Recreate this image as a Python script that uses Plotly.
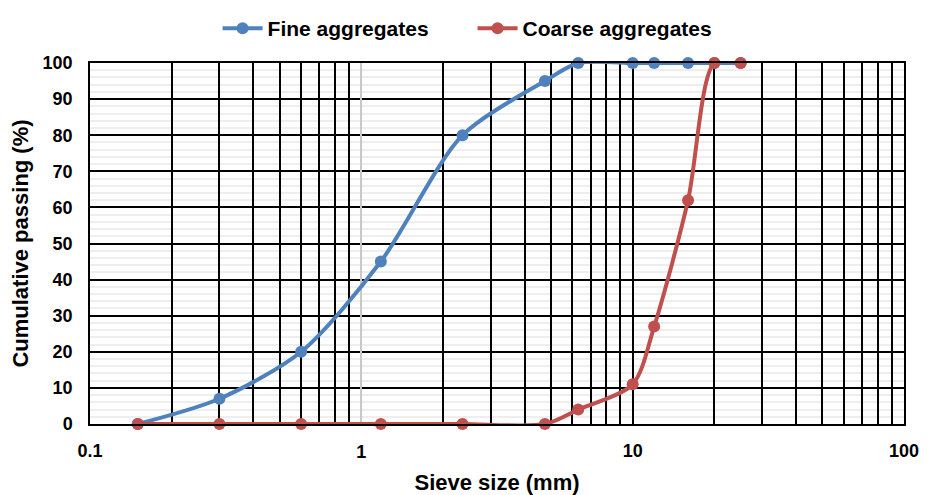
import plotly.graph_objects as go

# Data
fine_sieve = [0.15, 0.3, 0.6, 1.18, 2.36, 4.75, 6.3, 10, 12, 16, 20, 25]
fine_passing = [0, 7, 20, 45, 80, 95, 100, 100, 100, 100, 100, 100]
coarse_sieve = [0.15, 0.3, 0.6, 1.18, 2.36, 4.75, 6.3, 10, 12, 16, 20, 25]
coarse_passing = [0, 0, 0, 0, 0, 0, 4, 11, 27, 62, 100, 100]

x_gridvals = [0.1, 0.2, 0.3, 0.4, 0.5, 0.6, 0.7, 0.8, 0.9,
              2, 3, 4, 5, 6, 7, 8, 9, 10,
              20, 30, 40, 50, 60, 70, 80, 90, 100]
x_labels = {0.1: "0.1", 10: "10", 100: "100"}
x_unit_tick = [1]
x_unit_label = ["1"]

BLUE = "#4F81BD"
RED = "#C0504D"
FONT = "Liberation Sans"

fig = go.Figure()
# helper (invisible) trace so the overlaying axis carrying the grey "1" line is drawn
fig.add_trace(go.Scatter(x=x_unit_tick, y=[None], xaxis="x2", showlegend=False,
                         hoverinfo="skip", mode="markers"))
fig.add_trace(go.Scatter(
    x=fine_sieve, y=fine_passing, name="Fine aggregates",
    mode="lines+markers", line=dict(color=BLUE, width=4, shape="spline", smoothing=0.8),
    marker=dict(color=BLUE, size=12), cliponaxis=False))
fig.add_trace(go.Scatter(
    x=coarse_sieve, y=coarse_passing, name="Coarse aggregates",
    mode="lines+markers", line=dict(color=RED, width=4, shape="spline", smoothing=0.8),
    marker=dict(color=RED, size=12), cliponaxis=False))

tickfont = dict(size=18, weight="bold")

# the page is shown with an 8px body margin, so the figure is sized to fit the rest
fig.update_layout(
    width=925, height=487,
    margin=dict(l=82, r=29, t=55, b=71, autoexpand=False),
    paper_bgcolor="white", plot_bgcolor="white",
    font=dict(family=FONT, color="black"),
    showlegend=True,
    legend=dict(orientation="h", x=0.47, xanchor="center", y=1.0, yref="container",
                yanchor="top", font=dict(size=21, family=FONT, weight="bold"),
                itemwidth=40, entrywidth=200, bgcolor="rgba(0,0,0,0)"),
    xaxis=dict(
        type="log", range=[-1, 2], automargin=False,
        tickvals=x_gridvals, ticktext=[x_labels.get(v, "") for v in x_gridvals],
        tickfont=tickfont,
        showgrid=True, gridcolor="black", gridwidth=1.5,
        showline=True, linecolor="black", linewidth=1.5, mirror=True,
        ticks="", ticklabelstandoff=10,
        title=dict(text="Sieve size (mm)", font=dict(size=22, weight="bold"), standoff=14),
        zeroline=False,
    ),
    xaxis2=dict(
        type="log", range=[-1, 2], automargin=False, overlaying="x", side="bottom",
        tickvals=x_unit_tick, ticktext=x_unit_label, tickfont=tickfont,
        showgrid=True, gridcolor="#c8c8c8", gridwidth=1.5,
        showline=False, ticks="", ticklabelstandoff=15, zeroline=False,
    ),
    yaxis=dict(
        range=[0, 100], dtick=10, automargin=False,
        tickfont=tickfont,
        showgrid=True, gridcolor="black", gridwidth=1.5,
        showline=True, linecolor="black", linewidth=1.5, mirror=True,
        ticks="", ticklabelstandoff=12,
        minor=dict(dtick=2, showgrid=True, gridcolor="#eeeeee", gridwidth=1.5,
                   griddash="solid", ticks=""),
        title=dict(text="Cumulative passing (%)", font=dict(size=22, weight="bold"), standoff=8),
        zeroline=False,
    ),
)

fig.write_html("out.html")
